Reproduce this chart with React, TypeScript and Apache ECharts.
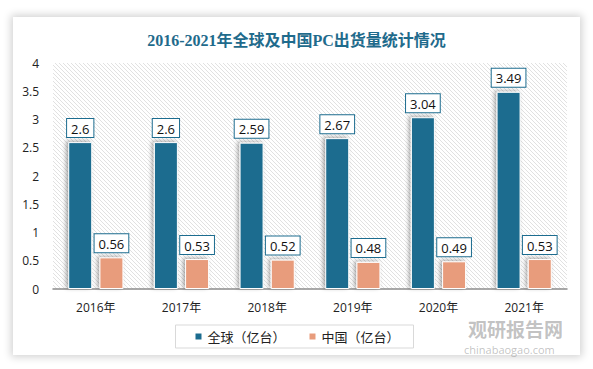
import React, { useEffect, useRef } from "react";
import * as echarts from "echarts";

const categories = ["2016年", "2017年", "2018年", "2019年", "2020年", "2021年"];
const globalValues = [2.6, 2.6, 2.59, 2.67, 3.04, 3.49];
const chinaValues = [0.56, 0.53, 0.52, 0.48, 0.49, 0.53];
const seriesNames = ["全球（亿台）", "中国（亿台）"];
const titleText = "2016-2021年全球及中国PC出货量统计情况";

function makeHatch(): HTMLCanvasElement {
  const c = document.createElement("canvas");
  const s = 4;
  c.width = s;
  c.height = s;
  const ctx = c.getContext("2d")!;
  ctx.fillStyle = "#ffffff";
  ctx.fillRect(0, 0, s, s);
  ctx.strokeStyle = "#dedede";
  ctx.lineWidth = 0.9;
  ctx.beginPath();
  ctx.moveTo(-1, -1);
  ctx.lineTo(s + 1, s + 1);
  ctx.moveTo(-1, s - 1);
  ctx.lineTo(1, s + 1);
  ctx.moveTo(s - 1, -1);
  ctx.lineTo(s + 1, 1);
  ctx.stroke();
  return c;
}

export default function App() {
  const ref = useRef<HTMLDivElement>(null);
  useEffect(() => {
    document.body.style.margin = "0";
    const chart = echarts.init(ref.current!, undefined, { renderer: "svg" });
    const hatch = makeHatch();
    const labelCommon = {
      show: true,
      position: "top" as const,
      distance: 5,
      backgroundColor: "#ffffff",
      borderColor: "#1c6c8f",
      borderWidth: 1,
      padding: [3, 4, 2, 4],
      color: "#111",
      fontSize: 13,
      fontFamily: "'Open Sans', 'Noto Sans', sans-serif",
    };
    const itemCommon = {
      borderColor: "#ffffff",
      borderWidth: 1,
      shadowColor: "rgba(0,0,0,0.35)",
      shadowBlur: 4,
      shadowOffsetX: -2,
      shadowOffsetY: -1,
    };
    chart.setOption({
      animation: false,
      backgroundColor: "transparent",
      title: {
        text: titleText,
        left: "center",
        top: 27,
        textStyle: {
          color: "#1f6b8c",
          fontSize: 16,
          fontWeight: "bold",
          fontFamily: "'Liberation Serif', 'Noto Sans CJK SC', serif",
        },
      },
      legend: {
        bottom: 21,
        left: "center",
        itemWidth: 8,
        itemHeight: 8,
        itemGap: 22,
        borderColor: "#d9d9d9",
        borderWidth: 1,
        padding: [5, 14, 5, 18],
        icon: "rect",
        textStyle: { color: "#222", fontSize: 13, fontFamily: "'Noto Sans CJK SC', sans-serif" },
        data: seriesNames,
      },
      grid: {
        left: 53,
        right: 26,
        top: 63,
        bottom: 80,
        show: true,
        borderWidth: 0,
        backgroundColor: { image: hatch, repeat: "repeat" } as any,
      },
      xAxis: {
        type: "category",
        data: categories,
        axisLine: { lineStyle: { color: "#8c8c8c", width: 1.5 } },
        axisTick: { show: false },
        axisLabel: {
          color: "#222",
          fontSize: 12,
          margin: 12,
          fontFamily: "'Open Sans', 'Noto Sans CJK SC', sans-serif",
        },
      },
      yAxis: {
        type: "value",
        min: 0,
        max: 4,
        interval: 0.5,
        splitLine: { show: false },
        axisLine: { show: false },
        axisTick: { show: false },
        axisLabel: {
          color: "#222",
          fontSize: 12,
          margin: 14,
          fontFamily: "'Open Sans', sans-serif",
        },
      },
      series: [
        {
          name: seriesNames[0],
          type: "bar",
          data: globalValues,
          barWidth: 24,
          barGap: "30%",
          itemStyle: { color: "#1c6c8f", ...itemCommon },
          label: labelCommon,
        },
        {
          name: seriesNames[1],
          type: "bar",
          data: chinaValues,
          barWidth: 24,
          barGap: "30%",
          itemStyle: { color: "#e89c7c", ...itemCommon },
          label: labelCommon,
        },
      ],
      graphic: [
        {
          type: "text",
          left: 468,
          top: 318,
          silent: true,
          style: {
            text: "观研报告网",
            fill: "rgba(120,120,120,0.45)",
            fontSize: 19,
            lineHeight: 20,
            fontWeight: "bold",
            fontFamily: "'Noto Sans CJK SC', sans-serif",
          },
        },
        {
          type: "text",
          left: 464,
          top: 343,
          silent: true,
          style: {
            text: "chinabaogao.com",
            fill: "rgba(120,120,120,0.45)",
            fontSize: 11,
            lineHeight: 12,
            fontFamily: "'Open Sans', sans-serif",
          },
        },
      ],
    });
    return () => chart.dispose();
  }, []);
  return (
    <div style={{ position: "relative", width: 593, height: 369, background: "#ffffff", overflow: "hidden" }}>
      <div
        style={{
          position: "absolute",
          left: 13,
          top: 17,
          width: 567,
          height: 338,
          background: "#ffffff",
          boxShadow: "0 0 8px 2px rgba(0,0,0,0.18)",
        }}
      />
      <div ref={ref} style={{ position: "absolute", left: 0, top: 0, width: 593, height: 369 }} />
    </div>
  );
}
